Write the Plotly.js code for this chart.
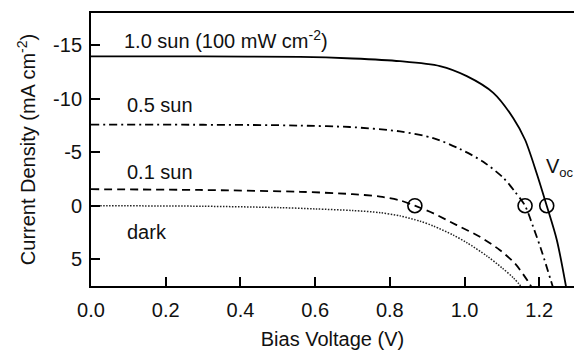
<!DOCTYPE html>
<html>
<head>
<meta charset="utf-8">
<script src="https://cdn.plot.ly/plotly-3.0.1.min.js"></script>
<style>
html,body{margin:0;padding:0;background:#fff;}
#chart{width:574px;height:350px;}
</style>
</head>
<body>
<div id="chart"></div>
<script>
// 1.0 sun (100 mW cm-2)
var sun10V = [0, 0.3, 0.56, 0.7, 0.827, 0.934, 1.006, 1.077, 1.131, 1.162, 1.193, 1.22, 1.247, 1.275];
var sun10J = [-13.95, -13.94, -13.9, -13.75, -13.5, -13.04, -12.1, -10.54, -8.15, -6.16, -3.04, 0, 3.2, 8.2];
// 0.5 sun
var sun05V = [0, 0.3, 0.5, 0.56, 0.693, 0.827, 0.916, 0.988, 1.05, 1.104, 1.135, 1.162, 1.184, 1.207, 1.24];
var sun05J = [-7.57, -7.56, -7.52, -7.48, -7.35, -6.94, -6.32, -5.29, -4.1, -2.6, -1.3, 0, 2.0, 4.3, 8.0];
// 0.1 sun
var sun01V = [0, 0.29, 0.56, 0.7, 0.774, 0.827, 0.867, 0.917, 0.979, 1.041, 1.095, 1.135, 1.171, 1.19];
var sun01J = [-1.54, -1.47, -1.3, -1.08, -0.85, -0.5, 0, 0.72, 1.81, 2.9, 4.16, 5.4, 7.13, 8.2];
// dark
var darkV = [0, 0.3, 0.506, 0.6, 0.7, 0.774, 0.827, 0.881, 0.917, 0.97, 1.006, 1.06, 1.1, 1.131, 1.16];
var darkJ = [0, 0.05, 0.18, 0.3, 0.45, 0.65, 0.95, 1.45, 1.9, 2.75, 3.45, 4.7, 5.8, 6.75, 7.9];
// open-circuit voltage markers
var vocV = [0.867, 1.162, 1.22];
var vocJ = [0, 0, 0];

var xTicks = [0, 0.2, 0.4, 0.6, 0.8, 1.0, 1.2];
var xTickLabels = ['0.0', '0.2', '0.4', '0.6', '0.8', '1.0', '1.2'];
var yTicks = [-15, -10, -5, 0, 5];
var yTickLabels = ['-15', '-10', '-5', '0', '5'];

var FONT = 'Liberation Sans, Arial, sans-serif';
var TXT = '#111';

var traces = [
  {x: sun10V, y: sun10J, mode: 'lines', line: {color: '#000', width: 1.8, shape: 'spline', smoothing: 0.8}, hoverinfo: 'skip'},
  {x: sun05V, y: sun05J, mode: 'lines', line: {color: '#000', width: 1.8, dash: '8px,4px,2px,4px', shape: 'spline', smoothing: 0.8}, hoverinfo: 'skip'},
  {x: sun01V, y: sun01J, mode: 'lines', line: {color: '#000', width: 1.8, dash: '8px,5px', shape: 'spline', smoothing: 0.8}, hoverinfo: 'skip'},
  {x: darkV, y: darkJ, mode: 'lines', line: {color: '#222', width: 1.5, dash: '1.5px,1.5px', shape: 'spline', smoothing: 0.8}, hoverinfo: 'skip'},
  {x: vocV, y: vocJ, mode: 'markers', marker: {symbol: 'circle-open', size: 14, color: '#000', line: {width: 1.6, color: '#000'}}, hoverinfo: 'skip'}
];

var layout = {
  width: 574, height: 350,
  margin: {l: 91, r: 0, t: 13, b: 64},
  paper_bgcolor: '#fff', plot_bgcolor: '#fff',
  showlegend: false,
  font: {family: FONT, size: 20, color: TXT},
  xaxis: {
    range: [0, 1.293], tickmode: 'array', tickvals: xTicks, ticktext: xTickLabels,
    ticks: 'inside', ticklen: 9, tickwidth: 2, tickcolor: '#000',
    showline: true, linewidth: 2, linecolor: '#000', mirror: true,
    showgrid: false, zeroline: false,
    tickfont: {family: FONT, size: 20, color: TXT},
    ticklabelstandoff: 5,
    title: {text: 'Bias Voltage (V)', font: {family: FONT, size: 20, color: TXT}, standoff: 14}
  },
  yaxis: {
    range: [7.5, -18], tickmode: 'array', tickvals: yTicks, ticktext: yTickLabels,
    ticks: 'inside', ticklen: 9, tickwidth: 2, tickcolor: '#000',
    showline: true, linewidth: 2, linecolor: '#000',
    showgrid: false, zeroline: false,
    tickfont: {family: FONT, size: 20, color: TXT},
    ticklabelstandoff: 3,
    title: {text: 'Current Density (mA cm<sup>-2</sup>)', font: {family: FONT, size: 20, color: TXT}, standoff: 12}
  },
  annotations: [
    {x: 0.083, y: -15.5, xref: 'x', yref: 'y', text: '1.0 sun (100 mW cm<sup>-2</sup>)', showarrow: false, xanchor: 'left', yanchor: 'middle', font: {family: FONT, size: 20, color: TXT}},
    {x: 0.09, y: -9.45, xref: 'x', yref: 'y', text: '0.5 sun', showarrow: false, xanchor: 'left', yanchor: 'middle', font: {family: FONT, size: 20, color: TXT}},
    {x: 0.09, y: -3.19, xref: 'x', yref: 'y', text: '0.1 sun', showarrow: false, xanchor: 'left', yanchor: 'middle', font: {family: FONT, size: 20, color: TXT}},
    {x: 0.09, y: 2.5, xref: 'x', yref: 'y', text: 'dark', showarrow: false, xanchor: 'left', yanchor: 'middle', font: {family: FONT, size: 20, color: TXT}},
    {x: 1.213, y: -3.6, xref: 'x', yref: 'y', text: 'V<sub><span style="font-size:13px">oc</span></sub>', showarrow: false, xanchor: 'left', yanchor: 'middle', font: {family: FONT, size: 20, color: TXT}}
  ]
};

Plotly.newPlot('chart', traces, layout, {staticPlot: true, displayModeBar: false});
</script>
</body>
</html>
